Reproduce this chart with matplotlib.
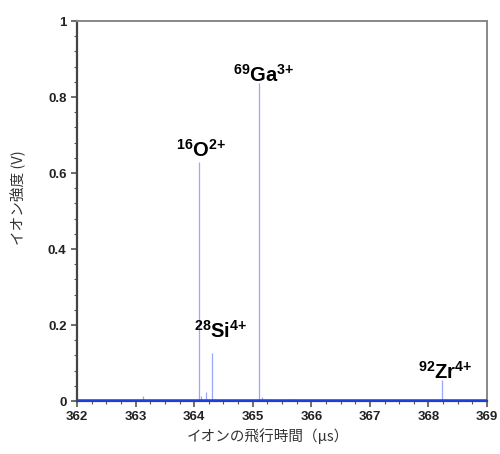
import numpy as np
import matplotlib
matplotlib.use("Agg")
import matplotlib.pyplot as plt
from matplotlib.ticker import MultipleLocator

plt.rcParams['font.family'] = ['Liberation Sans', 'Noto Sans CJK JP', 'DejaVu Sans']
plt.rcParams['mathtext.fontset'] = 'custom'
plt.rcParams['mathtext.rm'] = 'Liberation Sans'
plt.rcParams['mathtext.bf'] = 'Liberation Sans:bold'

# peaks (time in us, intensity in V)
peak_time = [363.13, 364.08, 364.12, 364.21, 364.31, 364.35, 364.90,
             365.11, 365.15, 365.28, 365.65, 368.24, 368.28]
peak_height = [0.012, 0.63, 0.012, 0.025, 0.127, 0.006, 0.003,
               0.836, 0.010, 0.006, 0.004, 0.055, 0.006]
baseline_level = 0.002

# ion labels: text, time (centre), intensity of text baseline
ion_labels = [r'$\mathbf{^{16}O^{2{+}}}$', r'$\mathbf{^{28}Si^{4{+}}}$',
              r'$\mathbf{^{69}Ga^{3{+}}}$', r'$\mathbf{^{92}Zr^{4{+}}}$']
label_time = [364.12, 364.46, 365.19, 368.29]
label_height = [0.642, 0.166, 0.840, 0.058]

fig = plt.figure(figsize=(5, 4.54), dpi=100)
ax = fig.add_axes([0.154, 0.1167, 0.820, 0.837])

ax.vlines(peak_time, baseline_level, peak_height, color='#9aa6ff', lw=0.9)
ax.axhline(baseline_level, color='#1f3fd6', lw=1.8, zorder=3)

for txt, t, h in zip(ion_labels, label_time, label_height):
    ax.text(t, h, txt, ha='center', va='baseline', fontsize=14.5, color='black')

ax.set_xlim(362, 369)
ax.set_ylim(0, 1)
ax.xaxis.set_major_locator(MultipleLocator(1))
ax.xaxis.set_minor_locator(MultipleLocator(0.25))
ax.yaxis.set_major_locator(MultipleLocator(0.2))
ax.yaxis.set_minor_locator(MultipleLocator(0.04))
ax.set_yticks([0, 0.2, 0.4, 0.6, 0.8, 1.0])
ax.set_yticklabels(['0', '0.2', '0.4', '0.6', '0.8', '1'])

ax.tick_params(which='both', direction='out', colors='#555555', labelcolor='#222222',
               labelsize=9.5)
ax.tick_params(which='major', length=4, width=1.2)
ax.tick_params(which='minor', length=2.5, width=0.8)
for lab in ax.get_xticklabels() + ax.get_yticklabels():
    lab.set_fontweight('bold')

for side in ['left', 'bottom']:
    ax.spines[side].set_color('#444444')
    ax.spines[side].set_linewidth(1.6)
for side in ['top', 'right']:
    ax.spines[side].set_color('#888888')
    ax.spines[side].set_linewidth(1.4)

ax.set_xlabel('イオンの飛行時間（μs）', family=['Noto Sans CJK JP', 'DejaVu Sans'],
              fontsize=10.5, color='#333333')
ax.xaxis.set_label_coords(0.466, -0.072)
ax.set_ylabel('イオン強度 (V)', family=['Noto Sans CJK JP', 'DejaVu Sans'],
              fontsize=10.5, color='#333333')
ax.yaxis.set_label_coords(-0.125, 0.534)

fig.savefig('out.png', dpi=100)
